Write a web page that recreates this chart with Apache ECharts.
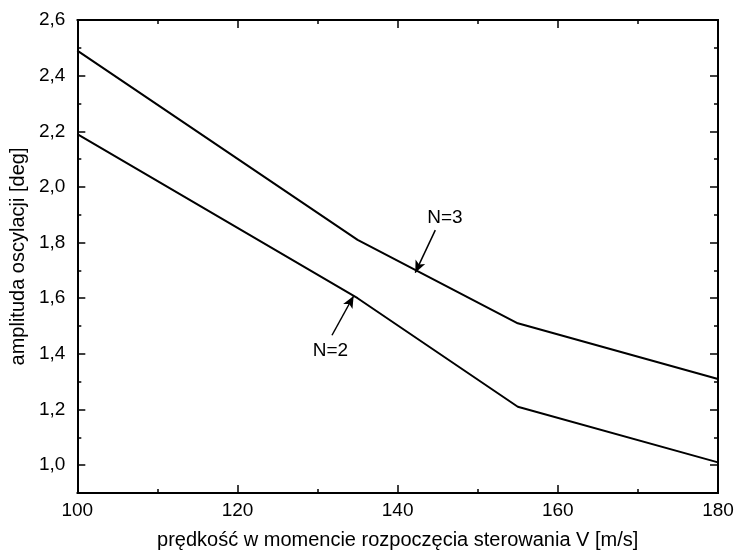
<!DOCTYPE html>
<html>
<head>
<meta charset="utf-8">
<script src="https://cdn.jsdelivr.net/npm/echarts@6/dist/echarts.min.js"></script>
<style>html,body{margin:0;padding:0;background:#fff}#c{width:741px;height:556px}</style>
</head>
<body>
<div id="c"></div>
<script>
var speeds = [100, 135, 155, 180];
var ampN3 = [2.49, 1.81, 1.51, 1.31];
var ampN2 = [2.19, 1.60, 1.21, 1.01];
var yMajorTicks = [1.0, 1.2, 1.4, 1.6, 1.8, 2.0, 2.2, 2.4, 2.6];
var xTitle = 'prędkość w momencie rozpoczęcia sterowania V [m/s]';
var yTitle = 'amplituda oscylacji [deg]';
var labelN3 = 'N=3', labelN2 = 'N=2';
// annotation anchors in data units: [textPos, arrowTail, arrowTip]
var annN3 = [[145.9, 1.888], [144.7, 1.845], [142.2, 1.692]];
var annN2 = [[131.6, 1.41], [131.8, 1.467], [134.5, 1.608]];

var FONT = 'Arial, "Liberation Sans", sans-serif';
var chart = echarts.init(document.getElementById('c'), null, {renderer: 'canvas'});
function pairs(xs, ys) { return xs.map(function (x, i) { return [x, ys[i]]; }); }
function fmt(v) { return v.toFixed(1).replace('.', ','); }

var lineAxis = {show: true, lineStyle: {color: '#000', width: 2}};
function yAx(pos, major, labels) {
  return {
    type: 'value', position: pos, min: 0.9, max: 2.6,
    interval: major ? undefined : 0.1,
    axisLine: lineAxis, splitLine: {show: false},
    axisTick: major ? {show: true, inside: true, length: 8, customValues: yMajorTicks, lineStyle: {color: '#000', width: 1.5}}
                    : {show: true, inside: true, length: 4, lineStyle: {color: '#000', width: 1.5}},
    axisLabel: labels ? {show: true, customValues: yMajorTicks, formatter: fmt, margin: 12, color: '#000', fontSize: 19, fontFamily: FONT}
                      : {show: false},
    name: labels ? yTitle : '', nameLocation: 'middle', nameGap: 45, nameRotate: 90,
    nameTextStyle: {color: '#000', fontSize: 20, fontFamily: FONT}
  };
}
function xAx(pos, labels) {
  return {
    type: 'value', position: pos, min: 100, max: 180, interval: 20,
    axisLine: lineAxis, splitLine: {show: false},
    axisTick: {show: true, inside: true, length: 8, lineStyle: {color: '#000', width: 1.5}},
    minorTick: {show: true, splitNumber: 2, length: 4, lineStyle: {color: '#000', width: 1.5}},
    minorSplitLine: {show: false},
    axisLabel: labels ? {show: true, margin: 8, color: '#000', fontSize: 19, fontFamily: FONT} : {show: false},
    name: labels ? xTitle : '', nameLocation: 'middle', nameGap: 37,
    nameTextStyle: {color: '#000', fontSize: 20, fontFamily: FONT}
  };
}

function annotation(ann, text) {
  return {
    markLine: {
      silent: true, symbol: ['none', 'arrow'], symbolSize: [8, 12],
      lineStyle: {color: '#000', width: 1.5, type: 'solid'},
      label: {show: false},
      data: [[{coord: ann[1]}, {coord: ann[2]}]]
    },
    markPoint: {
      silent: true, symbol: 'circle', symbolSize: 0,
      label: {show: true, position: 'inside', formatter: text, color: '#000', fontSize: 19, fontFamily: FONT},
      data: [{coord: ann[0]}]
    }
  };
}

var s3 = Object.assign({type: 'line', data: pairs(speeds, ampN3), showSymbol: false, symbol: 'none',
  lineStyle: {color: '#000', width: 2}, animation: false}, annotation(annN3, labelN3));
var s2 = Object.assign({type: 'line', data: pairs(speeds, ampN2), showSymbol: false, symbol: 'none',
  lineStyle: {color: '#000', width: 2}, animation: false}, annotation(annN2, labelN2));

chart.setOption({
  animation: false,
  backgroundColor: '#fff',
  grid: {left: 77, right: 23, top: 20, bottom: 63, containLabel: false},
  xAxis: [xAx('bottom', true), xAx('top', false)],
  yAxis: [yAx('left', true, true), yAx('left', false, false), yAx('right', true, false), yAx('right', false, false)],
  series: [s3, s2]
});
</script>
</body>
</html>
